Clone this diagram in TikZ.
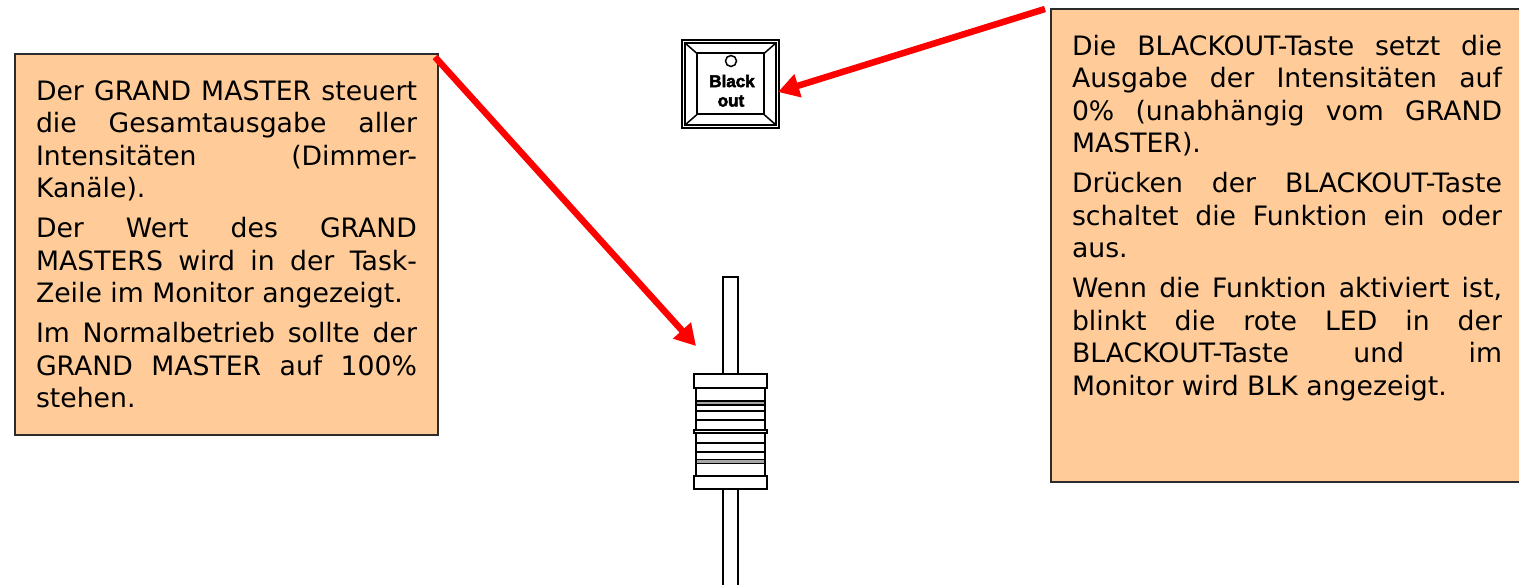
\documentclass[tikz,border=0pt]{standalone}
\usepackage{fontspec}
\setmainfont{DejaVu Sans}
\newfontfamily\keyfont[BoldFeatures={FakeBold=3}]{Liberation Sans}
\usetikzlibrary{arrows.meta,positioning}
\definecolor{notefill}{HTML}{FFCC99}
\definecolor{noteline}{HTML}{2B2B2B}
\definecolor{arrowred}{HTML}{FF0000}
\newcommand{\notefont}{\fontsize{26.7}{32.5}\selectfont\setlength{\parindent}{0pt}\setlength{\parskip}{7.5pt}\hfuzz=20pt\hbadness=10000 }
\tikzset{
    note/.style={draw=noteline,line width=2pt,fill=notefill,anchor=north west,font=\notefont,align=justify,inner xsep=21pt,inner ysep=26pt,outer sep=0pt},
    pointer/.style={draw=arrowred,line width=6.5pt,-{Triangle[length=21pt,width=23pt]}},
    part/.style={draw=black,line width=2pt,fill=white,inner sep=0pt,outer sep=0pt},
    ridge/.style={draw=black,line width=1.5pt,fill=gray!70,minimum width=69pt,minimum height=4pt,inner sep=0pt,outer sep=0pt},
    groove/.style={draw=black,line width=2pt},
    keytext/.style={font=\keyfont\bfseries\fontsize{17}{18}\selectfont,inner sep=0pt},
}
\begin{document}
\begin{tikzpicture}[x=1pt,y=-1pt]
    \useasboundingbox (0,0) rectangle (1519,585);

    \node[note,text width=381pt,minimum height=381pt] (gmnote) at (15,54) {Der GRAND MASTER steuert\linebreak die Gesamtausgabe aller\linebreak Intensitäten (Dimmer-\linebreak Kanäle).\par
        Der Wert des GRAND\linebreak MASTERS wird in der Task-\linebreak Zeile im Monitor angezeigt.\par
        Im Normalbetrieb sollte der\linebreak GRAND MASTER auf 100\%\linebreak stehen.};
    \node[note,text width=430pt] (blknote) at (1051,9) {Die BLACKOUT-Taste setzt die\linebreak Ausgabe der Intensitäten auf\linebreak 0\% (unabhängig vom GRAND\linebreak MASTER).\par
        Drücken der BLACKOUT-Taste\linebreak schaltet die Funktion ein oder\linebreak aus.\par
        Wenn die Funktion aktiviert ist,\linebreak blinkt die rote LED in der\linebreak BLACKOUT-Taste und im\linebreak Monitor wird BLK angezeigt.\par\rule{0pt}{47pt}};

    % black out key
    \node[part,minimum width=97pt,minimum height=88pt] (key) at (730.5,84) {};
    \node[part,line width=1.5pt,minimum width=91pt,minimum height=82pt] (keyrim) at (key) {};
    \node[part,minimum width=67pt,minimum height=61pt] (keyface) at (key) {};
    \draw[groove,line width=1.5pt] (keyrim.north west) -- (keyface.north west);
    \draw[groove,line width=1.5pt] (keyrim.north east) -- (keyface.north east);
    \draw[groove,line width=1.5pt] (keyrim.south west) -- (keyface.south west);
    \draw[groove,line width=1.5pt] (keyrim.south east) -- (keyface.south east);
    \node[part,line width=1.5pt,circle,minimum size=11pt] (led) at (731,61) {};
    \node[keytext] (keyblack) at (732,81) {\textbf{Black}};
    \node[keytext] (keyout) at (731,101) {\textbf{out}};

    % fader
    \node[part,minimum width=15pt,minimum height=320pt,anchor=north] (rod) at (730.5,277) {};
    \node[part,minimum width=69pt,minimum height=115pt,anchor=north] (cap) at (730.5,374) {};
    \node[part,minimum width=73pt,minimum height=14pt,anchor=north] (captop) at (cap.north) {};
    \node[part,minimum width=73pt,minimum height=13pt,anchor=south] (capbase) at (cap.south) {};
    \node[part,minimum width=73pt,minimum height=3pt] (capmid) at (730.5,431.5) {};
    \node[ridge] (ridgeup) at (730.5,403) {};
    \node[ridge] (ridgedown) at (730.5,461.5) {};
    \foreach \y in {411,420,443,452}
        \draw[groove] (cap.west |- 0,\y) -- (cap.east |- 0,\y);

    \coordinate (gmstart) at (435,57);
    \coordinate (rodtip) at (696,346);
    \coordinate (keytip) at (778,92);
    \coordinate (blkstart) at (1045,9);
    \draw[pointer] (gmstart) -- (rodtip);
    \draw[pointer] (blkstart) -- (keytip);
\end{tikzpicture}
\end{document}
